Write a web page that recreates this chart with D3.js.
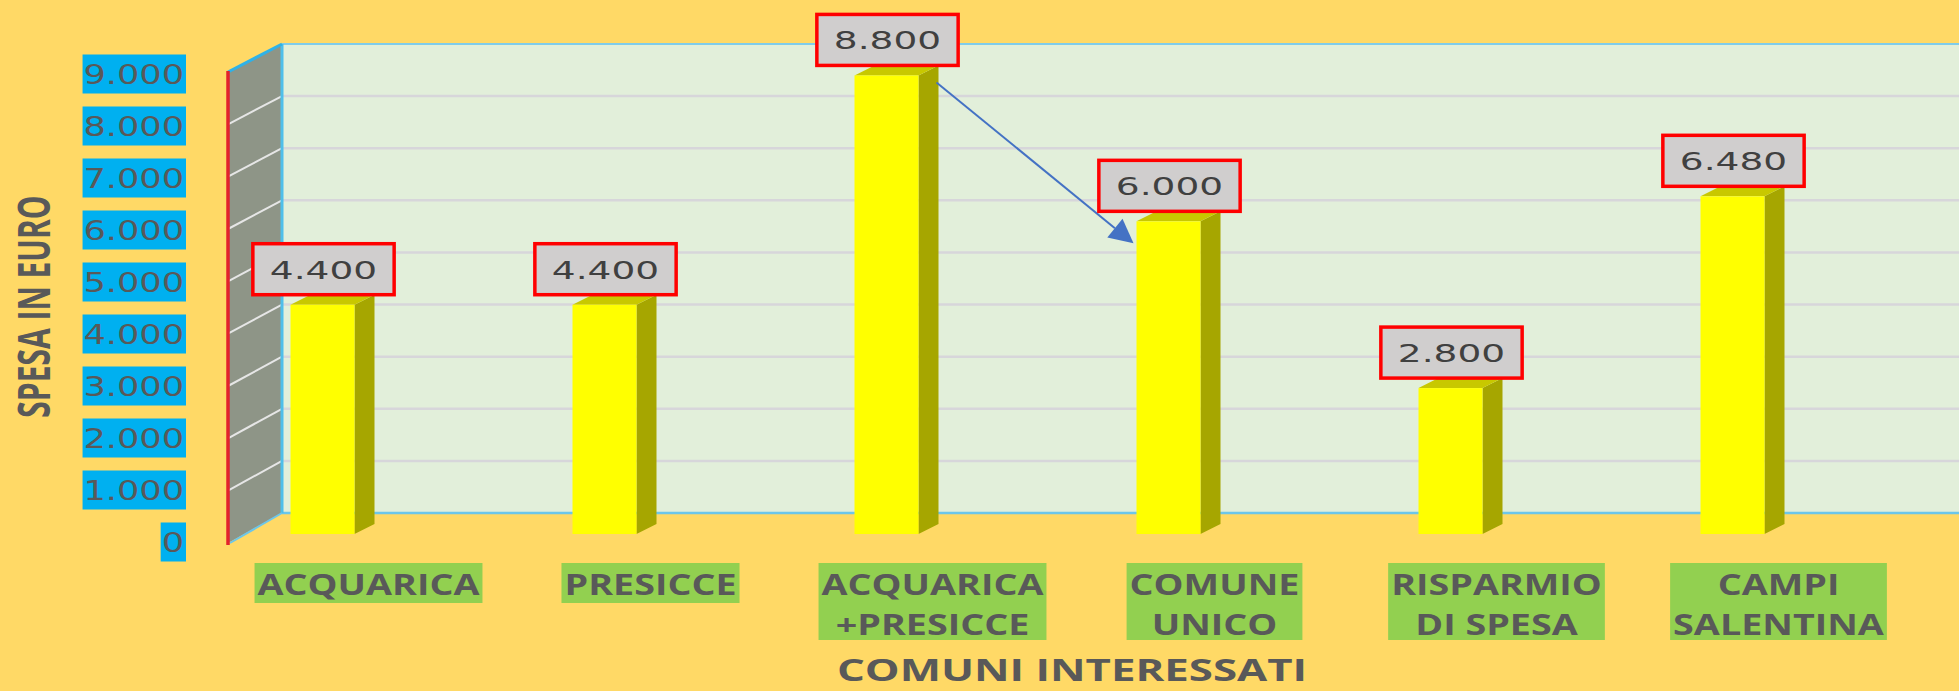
<!DOCTYPE html>
<html><head><meta charset="utf-8">
<script src="https://cdn.jsdelivr.net/npm/d3@7"></script>
<style>html,body{margin:0;padding:0;background:#FFD966;overflow:hidden}</style>
</head><body><svg id="c" width="1959" height="691"></svg>
<script>
// ---- data ----
const categories = ["ACQUARICA", "PRESICCE", "ACQUARICA\n+PRESICCE", "COMUNE\nUNICO", "RISPARMIO\nDI SPESA", "CAMPI\nSALENTINA"];
const values = [4400, 4400, 8800, 6000, 2800, 6480];
const yTicks = [0, 1000, 2000, 3000, 4000, 5000, 6000, 7000, 8000, 9000];
const yTitle = "SPESA IN EURO";
const xTitle = "COMUNI INTERESSATI";
const arrowFrom = 2, arrowTo = 3;

// ---- setup ----
const W = 1959, H = 691;
const svg = d3.select("#c");
const it = d3.formatLocale({decimal: ",", thousands: ".", grouping: [3], currency: ["€", ""]});
const fmt = it.format(",d");

const x = d3.scaleBand().domain(categories).range([181.5, 1873.5]);
const yBar = d3.scaleLinear().domain([0, 9000]).range([534, 65]);
const yBack = d3.scaleLinear().domain([0, 9000]).range([513, 44]);
const yFront = d3.scaleLinear().domain([0, 9000]).range([543, 72]);
const wallFrontX = 228, wallBackX = 282;
const barW = 64, dX = 20, dY = -10;

svg.append("rect").attr("width", W).attr("height", H).attr("fill", "#FFD966");

// back wall
svg.append("rect").attr("x", wallBackX).attr("y", yBack(9000))
  .attr("width", W - wallBackX).attr("height", yBack(0) - yBack(9000)).attr("fill", "#E2EFDA");
svg.append("g").selectAll("line").data(yTicks.filter(v => v > 0 && v < 9000)).join("line")
  .attr("x1", wallBackX).attr("x2", W).attr("y1", d => yBack(d)).attr("y2", d => yBack(d))
  .attr("stroke", "#D7D6DA").attr("stroke-width", 2.5);
svg.append("line").attr("x1", wallBackX).attr("x2", W).attr("y1", yBack(9000)).attr("y2", yBack(9000))
  .attr("stroke", "#7FCCEA").attr("stroke-width", 2);
svg.append("line").attr("x1", wallBackX).attr("x2", W).attr("y1", yBack(0)).attr("y2", yBack(0))
  .attr("stroke", "#6CC6EA").attr("stroke-width", 2.5);

// side wall
svg.append("polygon")
  .attr("points", [[wallFrontX, yFront(9000)], [wallBackX, yBack(9000)], [wallBackX, yBack(0)], [wallFrontX, yFront(0)]].join(" "))
  .attr("fill", "#8E9587");
svg.append("g").selectAll("line").data(yTicks.filter(v => v > 0 && v < 9000)).join("line")
  .attr("x1", wallFrontX).attr("x2", wallBackX).attr("y1", d => yFront(d)).attr("y2", d => yBack(d))
  .attr("stroke", "#E6E6E6").attr("stroke-width", 2);
svg.append("line").attr("x1", wallBackX).attr("x2", wallBackX).attr("y1", yBack(9000)).attr("y2", yBack(0))
  .attr("stroke", "#4FBFEA").attr("stroke-width", 3);
svg.append("line").attr("x1", wallFrontX).attr("x2", wallBackX).attr("y1", yFront(9000)).attr("y2", yBack(9000))
  .attr("stroke", "#2FB2E8").attr("stroke-width", 3);
svg.append("line").attr("x1", wallFrontX + 2).attr("x2", wallBackX).attr("y1", yFront(0)).attr("y2", yBack(0))
  .attr("stroke", "#6CC6EA").attr("stroke-width", 2);
svg.append("line").attr("x1", wallFrontX).attr("x2", wallFrontX).attr("y1", yFront(9000) - 1).attr("y2", yFront(0) + 2)
  .attr("stroke", "#E3222C").attr("stroke-width", 3.5);

// helper for horizontally stretched text
function stretched(g, str, cx, baseline, fs, family, weight, sx, anchor, fill) {
  const t = g.append("text").text(str)
    .attr("font-family", family).attr("font-size", fs).attr("font-weight", weight)
    .attr("text-anchor", anchor).attr("fill", fill)
    .attr("transform", `translate(${cx},${baseline}) scale(${sx},1)`);
  return t.node().getComputedTextLength() * sx;
}

// y tick labels
const tickG = svg.append("g");
yTicks.forEach(v => {
  const fs = 27, sx = 1.3;
  const yc = yFront(v) + (v / 9000) * 3 - 1;
  const g = tickG.append("g");
  const rect = g.append("rect").attr("fill", "#00B0F0");
  const w = stretched(g, fmt(v), 184, yc + 0.365 * fs, fs, "DejaVu Sans", 400, sx, "end", "#595959");
  rect.attr("x", 183 - w).attr("width", w + 3).attr("y", yc - 19.5).attr("height", 39);
});

// bars
const bars = svg.append("g");
categories.forEach((c, i) => {
  const v = values[i];
  const x0 = x(c) + (x.bandwidth() - barW) / 2, x1 = x0 + barW;
  const yt = yBar(v), yb = yBar(0);
  bars.append("polygon").attr("fill", "#A6A600")
    .attr("points", [[x1, yt], [x1 + dX, yt + dY], [x1 + dX, yb + dY], [x1, yb]].join(" "));
  bars.append("polygon").attr("fill", "#C8C800")
    .attr("points", [[x0, yt], [x0 + dX, yt + dY], [x1 + dX, yt + dY], [x1, yt]].join(" "));
  bars.append("rect").attr("x", x0).attr("y", yt).attr("width", barW).attr("height", yb - yt).attr("fill", "#FFFF00");
});

// arrow
{
  const a0 = x(categories[arrowFrom]) + (x.bandwidth() - barW) / 2 + barW + dX - 2;
  const b0 = yBar(values[arrowFrom]) + 7;
  const a1 = x(categories[arrowTo]) + (x.bandwidth() - barW) / 2 - 3;
  const b1 = yBar(values[arrowTo]) + 22;
  const ang = Math.atan2(b1 - b0, a1 - a0);
  const L = 24, Wd = 12;
  const bx = a1 - L * Math.cos(ang), by = b1 - L * Math.sin(ang);
  svg.append("line").attr("x1", a0).attr("y1", b0).attr("x2", bx).attr("y2", by)
    .attr("stroke", "#4472C4").attr("stroke-width", 2);
  const px = -Math.sin(ang) * Wd, py = Math.cos(ang) * Wd;
  svg.append("polygon").attr("fill", "#4472C4")
    .attr("points", [[a1, b1], [bx + px, by + py], [bx - px, by - py]].join(" "));
}

// data labels
const lab = svg.append("g");
categories.forEach((c, i) => {
  const v = values[i];
  const cx = x(c) + x.bandwidth() / 2 + 1;
  const bottom = yBar(v) - 10, hgt = 51;
  const g = lab.append("g");
  const rect = g.append("rect").attr("fill", "#D0CECE").attr("stroke", "#FF0000").attr("stroke-width", 3.5);
  const fs = 25.5;
  const yc = bottom - hgt / 2;
  const w = stretched(g, fmt(v), cx, yc + 0.365 * fs, fs, "DejaVu Sans", 400, 1.47, "middle", "#404040");
  rect.attr("x", cx - (w + 34) / 2).attr("width", w + 34).attr("y", bottom - hgt).attr("height", hgt);
});

// category labels
const catG = svg.append("g");
categories.forEach((c, i) => {
  const lines = c.split("\n");
  const cx = x(c) + x.bandwidth() / 2 + 46;
  const g = catG.append("g");
  const rect = g.append("rect").attr("fill", "#92D050");
  let maxW = 0;
  lines.forEach((ln, k) => {
    const w = stretched(g, ln, cx, 595 + 40 * k, 29, "Open Sans", 700, 1.3, "middle", "#595959");
    maxW = Math.max(maxW, w);
  });
  rect.attr("x", cx - (maxW + 6) / 2).attr("width", maxW + 6).attr("y", 563).attr("height", 3 + 37 * lines.length);
});

// axis titles
stretched(svg, xTitle, 1072, 681, 30, "Open Sans", 700, 1.46, "middle", "#595959");
svg.append("text").text(yTitle)
  .attr("font-family", "Open Sans").attr("font-size", 30).attr("font-weight", 700)
  .attr("text-anchor", "middle").attr("fill", "#595959")
  .attr("transform", "translate(50,306.5) scale(1.5,1) rotate(-90)");
</script>
</body></html>
